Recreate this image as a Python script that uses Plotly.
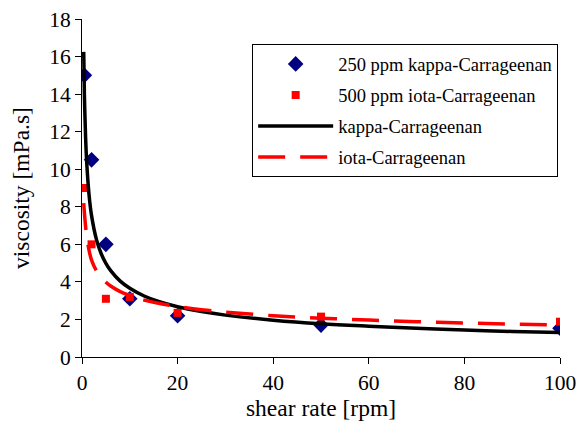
import plotly.graph_objects as go

# measured data
shear_rate_pts = [0.5, 2, 5, 10, 20, 50, 100]
kappa_250ppm = [15.0, 10.5, 6.0, 3.1, 2.2, 1.7, 1.53]
iota_500ppm = [9.0, 6.0, 3.1, 3.2, 2.35, 2.15, 1.88]

# fitted curves
shear_rate_fit = [0.36, 0.5, 0.75, 1, 1.5, 2, 3, 4, 5, 6, 8, 10, 13, 16, 20,
                  25, 30, 40, 50, 60, 70, 80, 90, 100]
kappa_fit = [16.25, 14.0, 11.7, 10.3, 8.57, 7.53, 6.28, 5.51, 4.99, 4.6, 4.04,
             3.66, 3.25, 2.96, 2.68, 2.42, 2.23, 1.96, 1.77, 1.64, 1.53, 1.44,
             1.36, 1.3]
iota_fit = [8.2, 7.7, 6.95, 6.4, 5.65, 5.16, 4.6, 4.24, 3.98, 3.78, 3.48, 3.27,
            3.03, 2.86, 2.69, 2.52, 2.39, 2.2, 2.07, 1.97, 1.88, 1.81, 1.75, 1.7]

x_ticks = [0, 20, 40, 60, 80, 100]
y_ticks = [0, 2, 4, 6, 8, 10, 12, 14, 16, 18]

FONT = "Liberation Serif"

fig = go.Figure()
fig.add_trace(go.Scatter(
    x=shear_rate_pts, y=kappa_250ppm, mode="markers",
    name="250 ppm kappa-Carrageenan", legendgroup="a",
    marker=dict(symbol="diamond", size=12, color="#000080"),
))
fig.add_trace(go.Scatter(
    x=shear_rate_pts, y=iota_500ppm, mode="markers",
    name="500 ppm iota-Carrageenan", legendgroup="b",
    marker=dict(symbol="square", size=8, color="#FF0000"),
))
fig.add_trace(go.Scatter(
    x=shear_rate_fit, y=kappa_fit, mode="lines", line_shape="spline",
    name="kappa-Carrageenan", legendgroup="c",
    line=dict(color="black", width=3.5),
))
fig.add_trace(go.Scatter(
    x=shear_rate_fit, y=iota_fit, mode="lines", line_shape="spline",
    name="iota-Carrageenan", legendgroup="d",
    line=dict(color="#FF0000", width=3.5, dash="27px,15px"),
))

fig.update_layout(
    width=577, height=422,
    margin=dict(l=82, r=17, t=19, b=65, autoexpand=False),
    paper_bgcolor="white", plot_bgcolor="white",
    font=dict(family=FONT, color="black", size=21),
    legend=dict(
        x=0.356, y=0.925, xanchor="left", yanchor="top",
        bordercolor="black", borderwidth=1, bgcolor="white",
        font=dict(family=FONT, size=18.5, color="black"),
        traceorder="grouped", tracegroupgap=4, itemwidth=75,
    ),
    xaxis=dict(
        range=[0, 100], tickvals=x_ticks, ticks="outside", ticklen=6,
        tickcolor="black", showline=True, linecolor="black", linewidth=1,
        showgrid=False, zeroline=False, tickfont=dict(size=21.5),
        automargin=False,
        title=dict(text="shear rate [rpm]", font=dict(size=23.5), standoff=4),
    ),
    yaxis=dict(
        range=[0, 18], tickvals=y_ticks, ticks="outside", ticklen=6,
        tickcolor="black", showline=True, linecolor="black", linewidth=1,
        showgrid=False, zeroline=False, tickfont=dict(size=21.5),
        automargin=False,
        title=dict(text="viscosity [mPa.s]", font=dict(size=23.5), standoff=12),
    ),
)

fig.write_html("out.html")
